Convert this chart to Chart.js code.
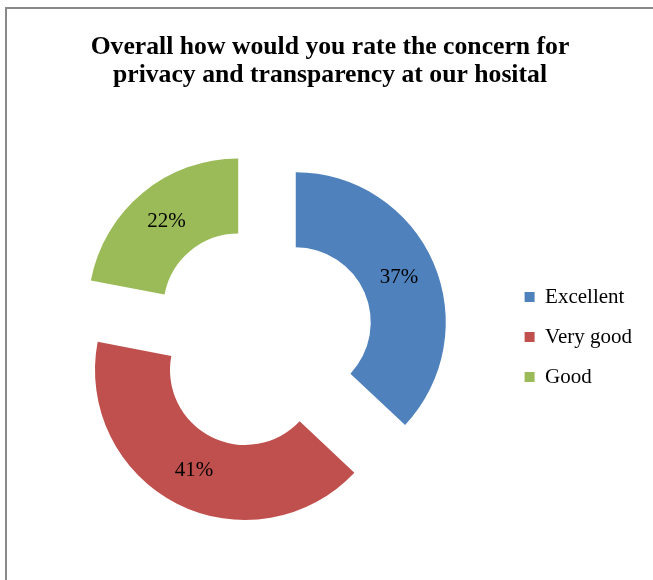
<!DOCTYPE html>
<html>
<head>
<meta charset="utf-8">
<script src="https://cdn.jsdelivr.net/npm/chart.js@4.4.1/dist/chart.umd.min.js"></script>
<style>
  html, body { margin: 0; padding: 0; background: #fff; overflow: hidden; }
  #frame {
    position: absolute; left: 5px; top: 7px; width: 700px; height: 600px;
    border-top: 2px solid #898989; border-left: 2px solid #898989;
  }
  #wrap { position: absolute; left: 6px; top: 8px; width: 653px; height: 572px; }
</style>
</head>
<body>
<div id="frame"></div>
<div id="wrap"><canvas id="myChart"></canvas></div>
<script>
// Datos
const categories = ['Excellent', 'Very good', 'Good'];
const percents = [37, 41, 22];
const colors = ['#4F81BD', '#C0504D', '#9BBB59'];
const titleLines = ['Overall how would you rate the concern for', 'privacy and transparency at our hosital'];

const GAP = 37; // explode distance

// dibuja cada porcion desplazada hacia afuera
const explode = {
  id: 'explode',
  beforeDatasetDraw(chart, args) {
    const ctx = chart.ctx;
    args.meta.data.forEach(arc => {
      const mid = (arc.startAngle + arc.endAngle) / 2;
      ctx.save();
      ctx.translate(Math.cos(mid) * GAP, Math.sin(mid) * GAP);
      arc.draw(ctx);
      ctx.restore();
    });
    return false;
  },
  afterDraw(chart) {
    const ctx = chart.ctx;
    ctx.save();
    ctx.font = '21px "Liberation Serif"';
    ctx.fillStyle = '#000';
    ctx.textAlign = 'center';
    ctx.textBaseline = 'middle';
    chart.getDatasetMeta(0).data.forEach((arc, i) => {
      const p = arc.getProps(['x', 'y', 'startAngle', 'endAngle', 'innerRadius', 'outerRadius'], true);
      const mid = (p.startAngle + p.endAngle) / 2;
      const r = (p.innerRadius + p.outerRadius) / 2 + GAP;
      ctx.fillText(percents[i] + '%', p.x + Math.cos(mid) * r, p.y + Math.sin(mid) * r);
    });
    ctx.restore();
  }
};

const ctx = document.getElementById('myChart');

new Chart(ctx, {
  type: 'doughnut',
  data: {
    labels: categories,
    datasets: [{
      data: percents,
      backgroundColor: colors,
      borderWidth: 0
    }]
  },
  options: {
    responsive: true,
    maintainAspectRatio: false,
    animation: false,
    cutout: '50%',
    radius: 150,
    layout: {
      padding: { left: 12, right: 17, top: 0, bottom: 93 }
    },
    plugins: {
      title: {
        display: true,
        text: titleLines,
        color: '#000',
        font: { family: 'Liberation Serif', size: 25.7, weight: 'bold', lineHeight: 1.09 },
        padding: { top: 25, bottom: 98 }
      },
      legend: {
        position: 'right',
        fullSize: false,
        labels: {
          color: '#000',
          boxWidth: 10,
          boxHeight: 10,
          padding: 19,
          font: { family: 'Liberation Serif', size: 21 }
        }
      },
      tooltip: { enabled: false }
    }
  },
  plugins: [explode]
});
</script>
</body>
</html>
